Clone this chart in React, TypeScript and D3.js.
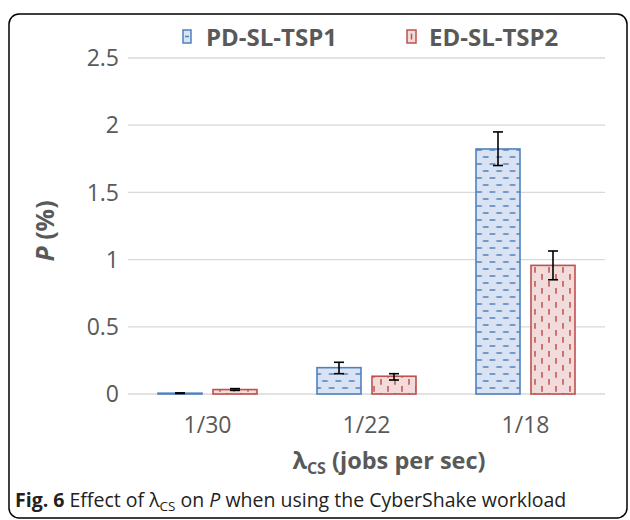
import React from "react";
import * as d3 from "d3";

const categories = ["1/30", "1/22", "1/18"];
const seriesNames = ["PD-SL-TSP1", "ED-SL-TSP2"];
const pdValues = [0.006, 0.196, 1.823];
const pdErrLow = [0.004, 0.151, 1.70];
const pdErrHigh = [0.008, 0.236, 1.95];
const edValues = [0.033, 0.132, 0.957];
const edErrLow = [0.027, 0.104, 0.85];
const edErrHigh = [0.04, 0.151, 1.064];
const yTicks = [0, 0.5, 1, 1.5, 2, 2.5];

const W = 630, H = 520;
const plot = { left: 128, right: 605, top: 58, bottom: 394 };
const FONT = "'Open Sans', 'DejaVu Sans', sans-serif";

export default function App() {
  const x0 = d3.scaleBand<string>().domain(categories).range([plot.left, plot.right]).paddingInner(0).paddingOuter(0);
  const y = d3.scaleLinear().domain([0, 2.5]).range([plot.bottom, plot.top]);
  const barW = 44;
  const gap = 11;
  const series = [
    { name: seriesNames[0], values: pdValues, lo: pdErrLow, hi: pdErrHigh, fill: "url(#patBlue)", stroke: "#4f81bd" },
    { name: seriesNames[1], values: edValues, lo: edErrLow, hi: edErrHigh, fill: "url(#patRed)", stroke: "#c0504d" },
  ];
  const fmt = d3.format("");
  return (
    <svg width={W} height={H} style={{ position: "absolute", left: 0, top: 0 }} fontFamily={FONT}>
      <defs>
        <pattern id="patBlue" patternUnits="userSpaceOnUse" width={13.4} height={14}>
          <rect width={13.4} height={14} fill="#dae3f3" />
          <line x1={0.5} x2={6.2} y1={3} y2={3} stroke="#4f81bd" strokeWidth={1.5} />
          <line x1={7.2} x2={12.9} y1={10} y2={10} stroke="#4f81bd" strokeWidth={1.5} />
        </pattern>
        <pattern id="patRed" patternUnits="userSpaceOnUse" width={14} height={14}>
          <rect width={14} height={14} fill="#f2dcdb" />
          <line x1={3} x2={3} y1={1} y2={6.8} stroke="#c0504d" strokeWidth={1.5} />
          <line x1={10} x2={10} y1={8} y2={13.8} stroke="#c0504d" strokeWidth={1.5} />
        </pattern>
      </defs>
      <rect x={9} y={14} width={618} height={504} rx={10} ry={10} fill="white" stroke="#000" strokeWidth={1.5} />
      {yTicks.map((t) => (
        <g key={t}>
          <line x1={plot.left} x2={plot.right} y1={y(t)} y2={y(t)} stroke="#d9d9d9" strokeWidth={1.3} />
          <text x={119} y={y(t)} dy="0.36em" textAnchor="end" fontSize={23} fill="#595959">{fmt(t)}</text>
        </g>
      ))}
      {categories.map((c, i) => {
        const cx = (x0(c) as number) + x0.bandwidth() / 2;
        return (
          <g key={c}>
            {series.map((s, j) => {
              const bx = j === 0 ? cx - gap / 2 - barW : cx + gap / 2;
              const v = s.values[i];
              const mx = bx + barW / 2;
              return (
                <g key={s.name}>
                  <rect x={bx} y={y(v)} width={barW} height={Math.max(0.5, y(0) - y(v))} fill={s.fill} stroke={s.stroke} strokeWidth={1.6} />
                  <line x1={mx} x2={mx} y1={y(s.hi[i])} y2={y(s.lo[i])} stroke="#000" strokeWidth={1.6} />
                  <line x1={mx - 5} x2={mx + 5} y1={y(s.hi[i])} y2={y(s.hi[i])} stroke="#000" strokeWidth={1.6} />
                  <line x1={mx - 5} x2={mx + 5} y1={y(s.lo[i])} y2={y(s.lo[i])} stroke="#000" strokeWidth={1.6} />
                </g>
              );
            })}
            <text x={cx} y={433} textAnchor="middle" fontSize={23} fill="#595959">{c}</text>
          </g>
        );
      })}
      <g>
        <rect x={183} y={30} width={8} height={13} fill="#dae3f3" stroke="#4f81bd" strokeWidth={1.5} />
        <line x1={185} x2={189} y1={36.5} y2={36.5} stroke="#4f81bd" strokeWidth={1.5} />
        <text x={206} y={46} fontSize={24} fontWeight="bold" fill="#595959">{seriesNames[0]}</text>
        <rect x={407} y={30} width={9} height={13} fill="#f2dcdb" stroke="#c0504d" strokeWidth={1.5} />
        <line x1={411.5} x2={411.5} y1={33.5} y2={39.5} stroke="#c0504d" strokeWidth={1.5} />
        <text x={429} y={46} fontSize={24} fontWeight="bold" fill="#595959">{seriesNames[1]}</text>
      </g>
      <text transform={`translate(54,231) rotate(-90)`} textAnchor="middle" fontSize={25} fontWeight="bold" fill="#595959">
        <tspan fontStyle="italic">P</tspan> (%)
      </text>
      <text x={389} y={469} textAnchor="middle" fontSize={23.5} fontWeight="bold" fill="#595959">
        λ<tspan fontSize={16} dy={5}>CS</tspan><tspan dy={-5}> (jobs per sec)</tspan>
      </text>
      <text x={15} y={507} fontSize={19.5} fill="#222">
        <tspan fontWeight="bold">Fig. 6</tspan> Effect of λ<tspan fontSize={13.5} dy={4}>CS</tspan><tspan dy={-4}> on </tspan><tspan fontStyle="italic">P</tspan> when using the CyberShake workload
      </text>
    </svg>
  );
}
